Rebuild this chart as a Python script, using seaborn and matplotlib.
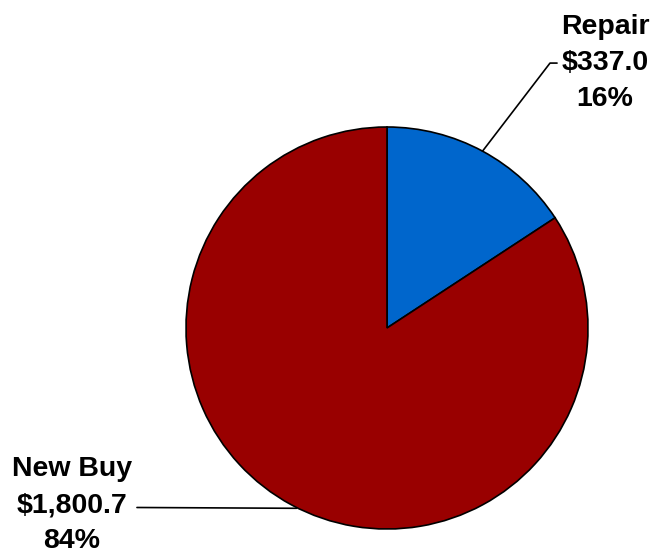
import numpy as np
import matplotlib
matplotlib.use("Agg")
import matplotlib.pyplot as plt
import seaborn as sns

categories = ["Repair", "New Buy"]
values = [337.0, 1800.7]
colors = ["#0066CC", "#990000"]

sns.set_theme(style="white")
plt.rcParams['font.family'] = ['Liberation Sans', 'DejaVu Sans']

fig = plt.figure(figsize=(6.62, 5.58), dpi=100)
# pie centre ~ (387, 328) px, radius ~201 px
ax = fig.add_axes([(387 - 201) / 662, (558 - 529) / 558, 402 / 662, 402 / 558])
wedges, _ = ax.pie(values, colors=colors, startangle=90, counterclock=False,
                   wedgeprops=dict(edgecolor="black", linewidth=1.2))
ax.set_xlim(-1, 1)
ax.set_ylim(-1, 1)
ax.set_aspect("equal")
ax.axis("off")

total = sum(values)
labels = ["{}\n${:,.1f}\n{:.0f}%".format(c, v, 100 * v / total) for c, v in zip(categories, values)]

# Repair label: top right, leader with short horizontal tail
w = wedges[0]
mid = np.deg2rad((w.theta1 + w.theta2) / 2)
p0 = (np.cos(mid), np.sin(mid))
ax.plot([p0[0], 0.811, 0.846], [p0[1], 1.318, 1.318], color="black", lw=1.2, clip_on=False)
ax.text(1.085, 1.318, labels[0], ha="center", va="center", fontsize=20.5,
        fontweight="bold", linespacing=1.5, color="black", clip_on=False)

# New Buy label: bottom left, horizontal leader
y = -0.893
x_edge = -np.sqrt(1 - y ** 2)
ax.plot([-1.244, x_edge], [y, y - 0.004], color="black", lw=1.2, clip_on=False)
ax.text(-1.567, y + 0.01, labels[1], ha="center", va="center", fontsize=20.5,
        fontweight="bold", linespacing=1.5, color="black", clip_on=False)

fig.savefig("out.png", dpi=100)
